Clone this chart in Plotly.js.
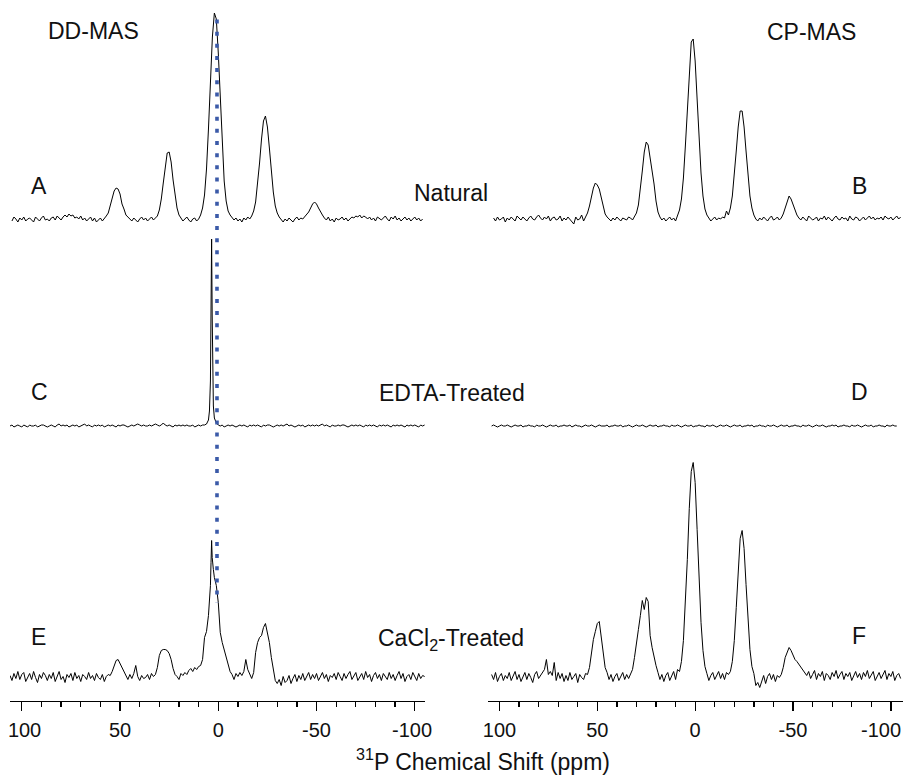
<!DOCTYPE html>
<html>
<head>
<meta charset="utf-8">
<script src="https://cdn.plot.ly/plotly-3.0.1.min.js"></script>
<style>
html,body{margin:0;padding:0;background:#fff;}
#chart{width:906px;height:775px;}
</style>
</head>
<body>
<div id="chart"></div>
<script>
// ---------- DATA ----------
// chemical-shift grids (ppm)
const ppm = [
 106,105,104,103,102,101,100,99,98,97,
 96,95,94,93,92,91,90,89,88,87,
 86,85,84,83,82,81,80,79,78,77,
 76,75,74,73,72,71,70,69,68,67,
 66,65,64,63,62,61,60,59,58,57,
 56,55,54,53,52,51,50,49,48,47,
 46,45,44,43,42,41,40,39,38,37,
 36,35,34,33,32,31,30,29,28,27,
 26,25,24,23,22,21,20,19,18,17,
 16,15,14,13,12,11,10,9,8,7,
 6,5,4,3,2,1,0,-1,-2,-3,
 -4,-5,-6,-7,-8,-9,-10,-11,-12,-13,
 -14,-15,-16,-17,-18,-19,-20,-21,-22,-23,
 -24,-25,-26,-27,-28,-29,-30,-31,-32,-33,
 -34,-35,-36,-37,-38,-39,-40,-41,-42,-43,
 -44,-45,-46,-47,-48,-49,-50,-51,-52,-53,
 -54,-55,-56,-57,-58,-59,-60,-61,-62,-63,
 -64,-65,-66,-67,-68,-69,-70,-71,-72,-73,
 -74,-75,-76,-77,-78,-79,-80,-81,-82,-83,
 -84,-85,-86,-87,-88,-89,-90,-91,-92,-93,
 -94,-95,-96,-97,-98,-99,-100,-101,-102,-103,
 -104,-105];

const ppmFine = [
 106,105,104,103,102,101,100,99,98,97,
 96,95,94,93,92,91,90,89,88,87,
 86,85,84,83,82,81,80,79,78,77,
 76,75,74,73,72,71,70,69,68,67,
 66,65,64,63,62,61,60,59,58,57,
 56,55,54,53,52,51,50,49,48,47,
 46,45,44,43,42,41,40,39,38,37,
 36,35,34,33,32,31,30,29,28,27,
 26,25,24,23,22,21,20,19,18,17,
 16,15,14,13,12,11,10,9,8,7,
 6,5,4.5,4,3.7,3.4,3.1,2.8,2.5,2,1,
 0,-1,-2,-3,-4,-5,-6,-7,-8,-9,
 -10,-11,-12,-13,-14,-15,-16,-17,-18,-19,
 -20,-21,-22,-23,-24,-25,-26,-27,-28,-29,
 -30,-31,-32,-33,-34,-35,-36,-37,-38,-39,
 -40,-41,-42,-43,-44,-45,-46,-47,-48,-49,
 -50,-51,-52,-53,-54,-55,-56,-57,-58,-59,
 -60,-61,-62,-63,-64,-65,-66,-67,-68,-69,
 -70,-71,-72,-73,-74,-75,-76,-77,-78,-79,
 -80,-81,-82,-83,-84,-85,-86,-87,-88,-89,
 -90,-91,-92,-93,-94,-95,-96,-97,-98,-99,
 -100,-101,-102,-103,-104,-105];

// A: DD-MAS, natural (on ppm)
const specA = [
 null,-2,2,0,-3,1,-1,2,-2,0,
 1,-1,-3,2,0,-2,1,3,-1,0,
 -2,1,2,-1,3,1,-1,2,4,2,
 5,3,4,1,2,0,3,-1,1,-2,
 0,2,-2,1,-3,-1,1,-2,0,3,
 6,13,19,28,31,30,25,15,10,4,
 2,0,-2,1,-1,-3,0,2,-1,1,
 -2,0,2,-1,1,3,9,20,36,53,
 66,67,57,39,22,11,4,1,-2,0,
 2,-1,-3,0,1,-2,0,4,11,24,
 50,90,135,182,206,200,166,118,73,38,
 18,8,4,2,-1,1,-2,0,-3,1,
 -1,2,0,3,8,17,34,56,80,98,
 103,92,71,47,27,13,6,2,-1,-3,
 0,-2,1,-1,-3,0,2,-1,1,0,
 2,4,7,11,15,17,15,11,7,4,
 1,-1,2,-2,0,-3,1,-1,0,2,
 -1,1,-2,0,2,1,3,2,4,1,
 3,2,0,2,-1,1,-2,2,0,-1,
 1,3,0,-2,2,0,3,-1,1,-2,
 0,2,-1,1,-2,0,2,-1,1,-2,
 0,null];

// B: CP-MAS, natural (on ppm)
const specB = [
 null,null,null,1,-2,2,-1,0,2,-3,
 1,-1,2,0,-2,3,1,-1,2,0,
 -2,1,3,0,-1,2,4,1,-1,2,
 0,3,-2,1,2,-1,0,3,-2,1,
 -1,2,0,-3,-5,2,-1,0,4,-2,
 2,6,13,22,31,36,34,30,22,12,
 5,2,0,-2,1,-1,2,0,-2,1,
 0,-1,2,1,-1,2,6,14,29,48,
 67,77,74,62,48,35,18,7,2,-1,
 1,-2,0,2,-1,1,-2,3,9,20,
 41,73,112,151,177,180,158,120,80,46,
 23,10,4,1,-2,0,2,-1,1,0,
 2,1,8,4,11,23,43,68,92,108,
 108,92,68,43,23,11,4,0,-2,1,
 -1,2,0,-2,1,3,-1,0,2,-1,
 1,5,11,18,23,20,14,8,4,1,
 -1,2,0,-2,3,1,-1,0,2,-2,
 1,0,3,-1,2,0,-2,1,3,0,
 -1,2,0,1,-2,3,0,-1,2,1,
 -2,0,2,-1,1,3,0,2,-1,1,
 0,2,-1,3,1,0,2,-1,1,3,
 0,2];

// C: DD-MAS, EDTA-treated (on ppmFine)
const specC = [
 0,1,-1,0,1,0,-1,1,0,-1,
 1,0,0,1,-1,0,1,1,0,-1,
 0,1,0,-1,1,2,0,1,0,1,
 -1,0,1,0,1,-1,0,1,2,0,
 1,0,-1,1,0,1,0,1,-1,0,
 1,0,1,0,-1,1,0,1,1,0,
 -1,0,1,0,1,2,1,0,1,0,
 0,1,0,1,2,1,0,1,3,1,
 0,1,0,-1,1,0,1,0,1,0,
 1,0,0,1,-1,0,1,0,1,1,
 2,6,15,45,110,187,110,45,20,8,3,
 1,0,1,-1,0,1,0,1,0,-1,
 0,1,0,1,0,-1,1,0,1,0,
 1,0,-1,1,0,1,1,0,-1,0,
 1,0,1,0,1,2,0,1,0,-1,
 0,1,0,1,-1,0,1,0,1,0,
 1,0,1,2,0,1,0,-1,1,0,
 0,1,0,1,1,0,-1,0,1,0,
 1,0,1,0,-1,1,0,1,0,1,
 0,-1,1,0,1,0,1,0,-1,1,
 0,1,0,1,0,-1,1,0,1,0,
 1,0,-1,1,0,1];

// D: CP-MAS, EDTA-treated (on ppm)
const specD = [
 null,null,0,1,0,-1,0,1,0,0,
 1,0,-1,0,1,0,0,1,-1,0,
 0,1,0,0,-1,1,0,0,1,0,
 -1,0,1,0,0,1,-1,0,0,1,
 0,0,1,-1,0,1,0,0,-1,0,
 1,0,0,1,0,-1,0,1,0,0,
 0,1,-1,0,0,1,0,0,1,-1,
 0,0,1,0,-1,0,1,0,0,1,
 0,-1,0,1,0,0,1,-1,0,0,
 1,0,0,-1,1,0,0,1,0,-1,
 0,1,0,0,1,-1,0,0,1,0,
 0,-1,1,0,0,1,0,-1,0,1,
 0,0,1,0,-1,0,1,0,0,1,
 -1,0,0,1,0,1,-1,0,0,1,
 0,0,-1,1,0,0,1,0,-1,0,
 1,0,0,1,-1,0,0,1,0,0,
 -1,1,0,0,1,0,-1,0,1,0,
 0,1,0,-1,0,0,1,0,1,-1,
 0,0,1,0,0,-1,1,0,0,1,
 0,-1,0,1,0,0,1,-1,0,0,
 1,0,0,-1,1,0,0,1,0,0,
 null,null];

// E: DD-MAS, CaCl2-treated (on ppmFine)
const specE = [
 2,-3,4,-1,6,-2,3,5,-4,1,
 4,-2,6,0,-5,3,-1,5,2,-3,
 3,-1,5,-4,2,6,-2,1,-5,3,
 0,4,-3,5,-1,2,-4,3,1,-2,
 5,-1,2,-3,4,0,-2,3,-4,1,
 3,2,6,12,17,18,14,10,5,2,
 -2,3,-1,4,12,1,-3,2,-1,0,
 3,-2,4,1,3,10,22,27,28,28,
 27,24,18,9,3,1,-2,4,2,5,
 3,7,9,6,10,8,11,12,18,40,
 46,62,75,92,115,137,120,110,108,100,92,
 75,45,35,28,20,12,6,3,-2,4,
 1,5,2,6,18,8,3,-1,5,25,
 35,40,42,50,54,46,35,20,8,-3,
 -6,-2,-8,1,-5,-3,2,-6,-1,3,
 -4,2,-2,4,-3,1,5,-2,3,-1,
 4,-3,2,5,-1,3,-4,2,0,4,
 -2,5,1,-3,4,-1,3,6,-2,2,
 5,-3,1,4,-2,6,0,3,-4,2,
 5,-1,3,-3,4,1,-2,5,-1,3,
 -3,2,6,-1,4,-4,1,3,-2,5,
 0,-3,4,-1,2,1];

// F: CP-MAS, CaCl2-treated (on ppm)
const specF = [
 null,null,3,-2,5,-4,1,4,-3,2,
 -1,5,-3,2,6,-2,3,-4,1,5,
 -2,4,0,-5,3,6,-1,2,5,8,
 18,3,6,2,15,-3,5,-1,4,-4,
 2,-3,5,-2,1,4,-5,3,0,-2,
 4,3,10,25,38,46,54,56,40,20,
 10,5,-2,3,-4,1,4,-3,2,5,
 -2,3,-1,4,8,20,32,48,62,77,
 68,80,76,42,30,20,12,5,-2,3,
 -4,2,5,-3,1,6,-2,8,6,16,
 37,71,118,169,206,215,195,148,98,55,
 27,11,4,-3,2,5,-2,3,6,-1,
 4,-2,5,3,6,16,37,70,108,139,
 147,129,93,56,28,11,4,-8,-5,-10,
 -3,2,-6,1,4,-2,3,-4,2,0,
 3,10,20,26,30,27,22,18,16,13,
 10,8,5,2,6,-1,3,7,-2,4,
 1,6,-3,4,2,-2,5,1,7,-1,
 3,6,-2,4,1,5,-3,2,6,0,
 4,-2,5,1,7,-1,3,6,-3,2,
 5,-1,3,7,-2,4,1,6,-3,2,
 4,-1];

const tickVals = [100, 50, 0, -50, -100];
const tickTextLeft = ['\u00a0100', '50', '0', '-50', '-100\u00a0'];
// right panel: the last label sits against the right edge, drawn as an annotation
const tickTextRight = ['100', '50', '0', '-50', ''];
const edgeTickLabel = '-100';
const panelLetters = ['A', 'B', 'C', 'D', 'E', 'F'];
const sampleNames = ['Natural', 'EDTA-Treated', 'CaCl<sub>2</sub>-Treated'];
const methodNames = ['DD-MAS', 'CP-MAS'];
const xTitle = '<sup>31</sup>P Chemical Shift (ppm)';

// ---------- LAYOUT HELPERS ----------
const FONT = 'Arial, "Liberation Sans", Helvetica, sans-serif';
const W = 906, H = 775;
const M = {l: 10, r: 3, t: 0, b: 74};
const PW = W - M.l - M.r, PH = H - M.t - M.b;
const px2x = p => (p - M.l) / PW;
const px2y = p => (PH - (p - M.t)) / PH;

const line = {color: '#000', width: 1};
const traces = [
  {x: ppm,     y: specA, xaxis: 'x',  yaxis: 'y3'},
  {x: ppm,     y: specB, xaxis: 'x2', yaxis: 'y3'},
  {x: ppmFine, y: specC, xaxis: 'x',  yaxis: 'y2'},
  {x: ppm,     y: specD, xaxis: 'x2', yaxis: 'y2'},
  {x: ppmFine, y: specE, xaxis: 'x',  yaxis: 'y'},
  {x: ppm,     y: specF, xaxis: 'x2', yaxis: 'y'}
].map(t => Object.assign(t, {type: 'scatter', mode: 'lines', line: line,
  connectgaps: false, hoverinfo: 'skip', showlegend: false}));

function xAxis(domain, range, ticktext) {
  return {
    domain: domain, range: range, anchor: 'y',
    showline: true, linecolor: '#000', linewidth: 1.2,
    ticks: 'outside', ticklen: 9, tickwidth: 1.3, tickcolor: '#000',
    tickvals: tickVals, ticktext: ticktext,
    ticklabelstandoff: 2,
    minor: {ticks: 'outside', ticklen: 5, tickwidth: 1.3, tickcolor: '#000', dtick: 10, tick0: 0, showgrid: false},
    tickfont: {family: FONT, size: 20, color: '#111'},
    showgrid: false, zeroline: false, fixedrange: true
  };
}
function yAxis(domain, range) {
  return {domain: domain, range: range, visible: false, anchor: 'x',
    showgrid: false, zeroline: false, fixedrange: true};
}

const ann = (text, xp, yp, size, xanchor) => ({
  text: text, xref: 'paper', yref: 'paper', x: px2x(xp), y: px2y(yp),
  xanchor: xanchor || 'center', yanchor: 'middle', showarrow: false,
  font: {family: FONT, size: size || 23, color: '#111'}
});

const annotations = [
  ann(methodNames[0], 93.7, 31),
  ann(methodNames[1], 811.2, 32),
  ann(panelLetters[0], 39.2, 186),
  ann(panelLetters[1], 859.2, 186),
  ann(panelLetters[2], 39.5, 392),
  ann(panelLetters[3], 859.5, 392),
  ann(panelLetters[4], 38.7, 637),
  ann(panelLetters[5], 859, 636),
  ann(sampleNames[0], 451, 193),
  ann(sampleNames[1], 451.5, 393),
  ann(sampleNames[2], 451, 639),
  ann(xTitle, 482.5, 759.5, 23)
];

const layout = {
  width: W, height: H, margin: M,
  paper_bgcolor: '#fff', plot_bgcolor: 'rgba(0,0,0,0)',
  showlegend: false,
  xaxis: xAxis([0, 415 / PW], [106, -105.2], tickTextLeft),
  xaxis2: xAxis([px2x(487.7), 1], [106, -106.2], tickTextRight),
  yaxis:  yAxis([0, px2y(400.5)], [-23.5, 277]),
  yaxis2: yAxis([px2y(446), px2y(226)], [-20, 200]),
  yaxis3: yAxis([px2y(239), 1], [-20, 219]),
  annotations: annotations,
  shapes: [{
    type: 'line', xref: 'x', yref: 'paper',
    x0: 0.66, x1: 0.66, y0: px2y(19.5), y1: px2y(603),
    line: {color: '#3b5aa8', width: 3.6, dash: '4px,8.15px'},
    layer: 'above'
  }]
};

Plotly.newPlot('chart', traces, layout, {displayModeBar: false, staticPlot: true}).then(gd => {
  // place the edge tick label of the right axis, measured against the rendered tick labels
  const lbl = gd.querySelector('.xtick text');
  let yMid = 730.5;
  if (lbl) {
    const r = lbl.getBoundingClientRect();
    yMid = r.top + r.height / 2;
  }
  const a = {
    text: edgeTickLabel, xref: 'paper', yref: 'paper',
    x: 1, y: px2y(yMid), xanchor: 'right', yanchor: 'middle', showarrow: false,
    font: {family: FONT, size: 20, color: '#111'}
  };
  Plotly.relayout(gd, {annotations: annotations.concat([a])});
});
</script>
</body>
</html>
